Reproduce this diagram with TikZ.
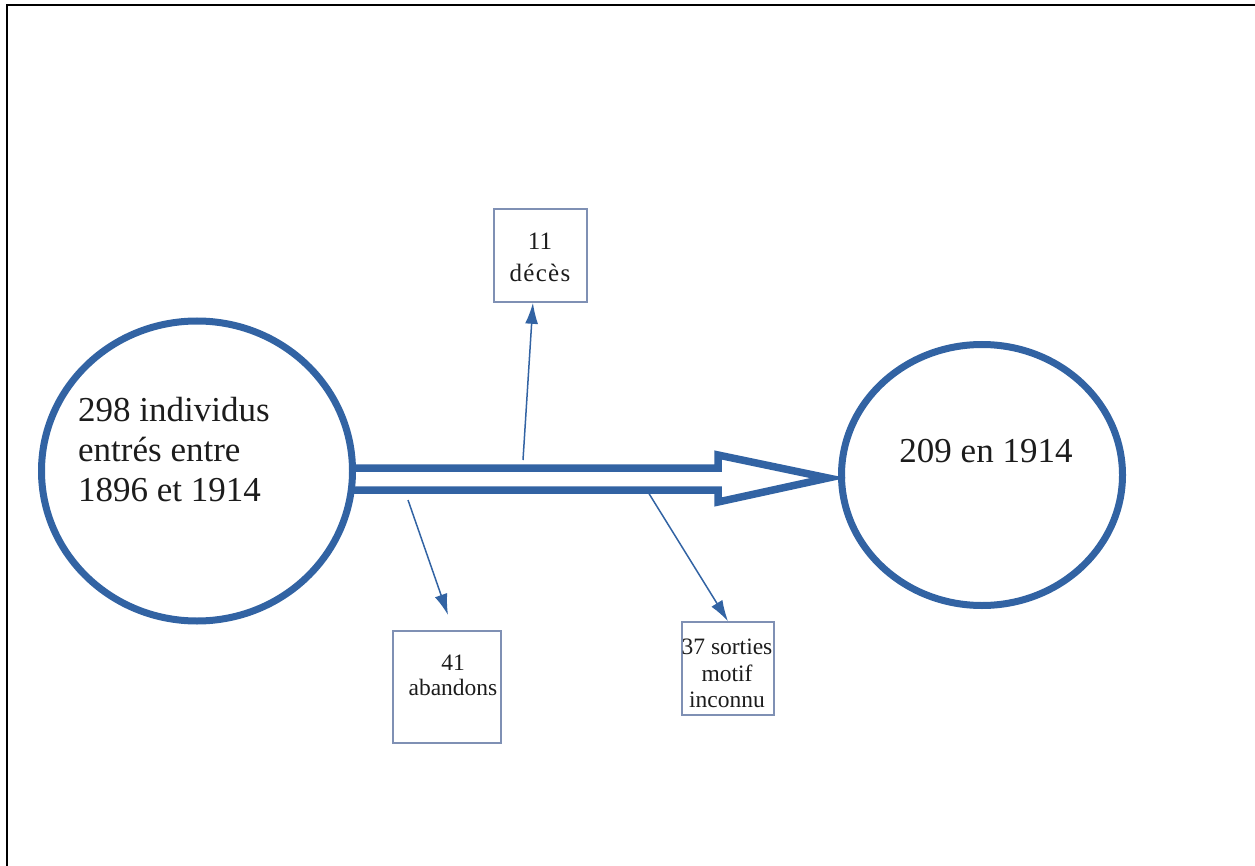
\documentclass[tikz,border=0pt]{standalone}
\usepackage{fontspec}
\setmainfont{Liberation Serif}
\usetikzlibrary{shapes.geometric,arrows.meta,calc}
\definecolor{lblue}{HTML}{3263A3}
\definecolor{boxc}{HTML}{7F90B4}
\definecolor{txt}{HTML}{1C1C1C}
\begin{document}
\begin{tikzpicture}[x=1pt,y=-1pt,
  bigcircle/.style={ellipse,draw=lblue,line width=7pt,inner sep=0pt},
  flowbox/.style={rectangle,draw=boxc,line width=1.6pt,inner sep=0pt},
  bigtext/.style={text=txt,inner sep=0pt,font=\fontsize{35}{40}\selectfont},
  smalltext/.style={text=txt,inner sep=0pt,align=center},
  thinarrow/.style={draw=lblue,line width=1.5pt,-{Latex[length=21pt,width=13pt]}},
  blockarrow/.style={draw=lblue,line width=7.5pt,line join=miter,line cap=butt}
]
\useasboundingbox (0,0) rectangle (1255,866);
\draw[line width=2pt] (7,866) -- (7,5) -- (1255,5);

% circles
\node[bigcircle,minimum width=311pt,minimum height=300pt] (start) at (197,471) {};
\node[bigcircle,minimum width=281pt,minimum height=261pt] (end) at (982,475) {};
\node[bigtext,align=left,anchor=north west] (starttext) at (78,397) {298 individus\\entrés entre\\1896 et 1914};
\node[bigtext,anchor=base] (endtext) at (986,462) {209 en 1914};

% block arrow
\coordinate (a1) at (350,468);
\coordinate (a2) at (718,468);
\coordinate (a3) at (718,455);
\coordinate (tip) at (828,478);
\coordinate (a5) at (718,502);
\coordinate (a6) at (718,490);
\coordinate (a7) at (350,490);
\draw[blockarrow] (a1) -- (a2) -- (a3) -- (tip) -- (a5) -- (a6) -- (a7);

% boxes
\node[flowbox,minimum width=93pt,minimum height=93pt] (deces) at (540.5,255.5) {};
\node[flowbox,minimum width=108pt,minimum height=112pt] (aband) at (447,687) {};
\node[flowbox,minimum width=92pt,minimum height=93pt] (sorties) at (728,668.5) {};

\node[smalltext,anchor=north,font=\fontsize{25}{32}\selectfont] (decestext) at (540,233) {11\\\addfontfeature{LetterSpace=5}décès};
\node[smalltext,anchor=north,font=\fontsize{23.5}{25}\selectfont] (abandtext) at (453,655) {41\\abandons};
\node[smalltext,anchor=north,font=\fontsize{23.5}{26.5}\selectfont] (sortiestext) at (727,639) {37 sorties\\motif\\inconnu};

% thin arrows
\coordinate (s1) at (523,460);
\draw[thinarrow] (s1) -- ($(deces.south west)!0.42!(deces.south east)$);
\coordinate (s2) at (408,500);
\coordinate (e2) at (448,615);
\draw[thinarrow] (s2) -- (e2);
\coordinate (s3) at (648,492);
\draw[thinarrow] (s3) -- (sorties.north);
\end{tikzpicture}
\end{document}
